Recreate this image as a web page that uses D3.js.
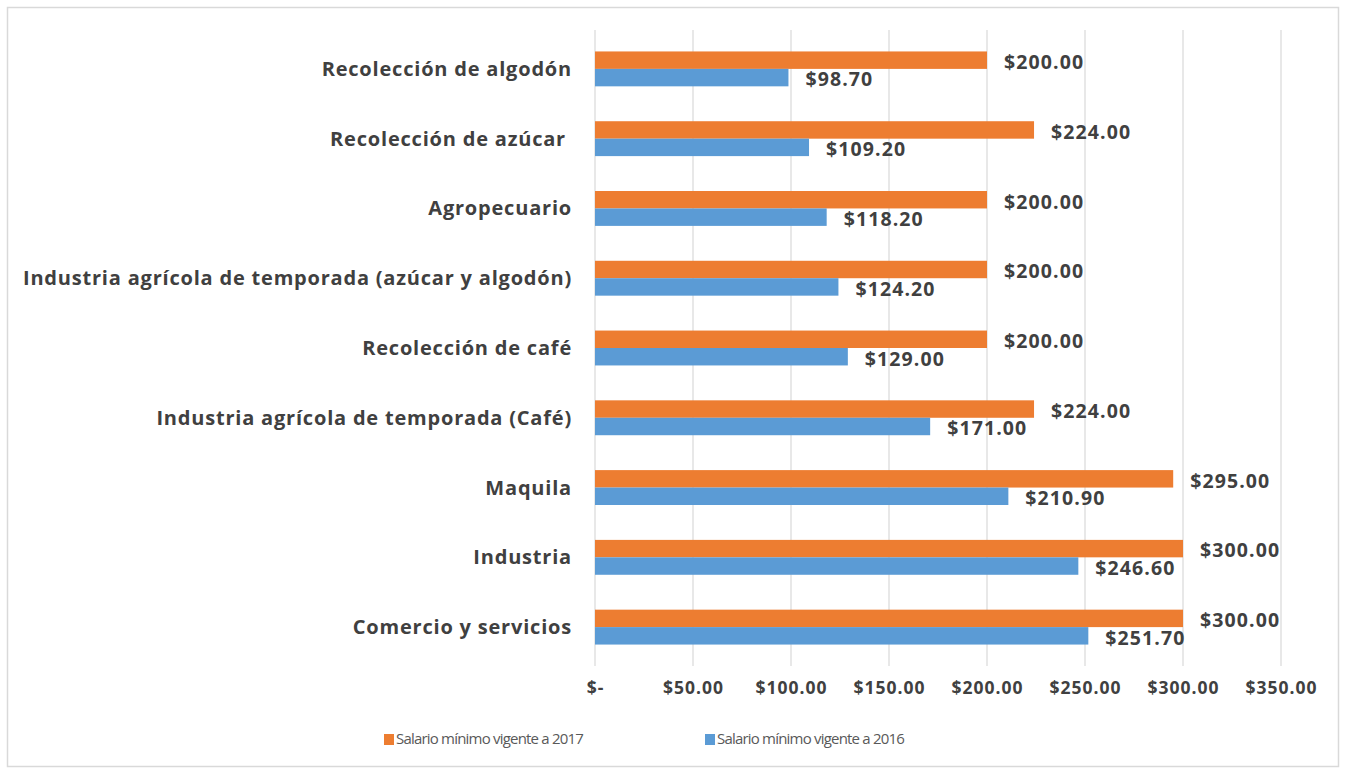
<!DOCTYPE html>
<html>
<head>
<meta charset="utf-8">
<script src="https://cdn.jsdelivr.net/npm/d3@7"></script>
<style>
	body { margin: 0; background: #fff; }
	text { font-family: "Open Sans", "DejaVu Sans", sans-serif; }
</style>
</head>
<body>
<svg class="mainsvg" width="1345" height="769"></svg>
<script>
var categories = [
	"Recolección de algodón",
	"Recolección de azúcar ",
	"Agropecuario",
	"Industria agrícola de temporada (azúcar y algodón)",
	"Recolección de café",
	"Industria agrícola de temporada (Café)",
	"Maquila",
	"Industria",
	"Comercio y servicios"
];
var salario2017 = [200, 224, 200, 200, 200, 224, 295, 300, 300];
var salario2016 = [98.7, 109.2, 118.2, 124.2, 129, 171, 210.9, 246.6, 251.7];
var tickValues = [0, 50, 100, 150, 200, 250, 300, 350];
var seriesNames = ["Salario mínimo vigente a 2017", "Salario mínimo vigente a 2016"];
var seriesColors = ["#ed7d31", "#5b9bd5"];

var svg = d3.select('.mainsvg');
var _width = 1345, _height = 769;

// chart border
svg.append('rect')
	.attr('x', 7.5).attr('y', 7.5)
	.attr('width', 1331).attr('height', 759)
	.attr('fill', '#fff')
	.attr('stroke', '#d9d9d9')
	.attr('stroke-width', 1.5);

var x = d3.scaleLinear().domain([0, 350]).range([595, 1281]);
var y = d3.scaleBand().domain(categories).range([34, 662]).paddingInner(0.5).paddingOuter(0.25);
var ySub = d3.scaleBand().domain([0, 1]).range([0, y.bandwidth()]);

// grid lines
svg.append('g')
	.selectAll('line')
	.data(tickValues)
	.join('line')
	.attr('x1', d => x(d)).attr('x2', d => x(d))
	.attr('y1', 30).attr('y2', 666)
	.attr('stroke', '#d9d9d9')
	.attr('stroke-width', 1.2);

// x axis
var fmt = d3.format(",.2f");
var xAxis = svg.append('g')
	.attr('transform', 'translate(0,666)')
	.call(d3.axisBottom(x).tickValues(tickValues).tickSize(0).tickPadding(16)
		.tickFormat(d => d == 0 ? '$-' : '$' + fmt(d)));
xAxis.select('.domain').remove();
xAxis.selectAll('text')
	.attr('fill', '#404040')
	.attr('font-size', '17.5px')
	.attr('font-weight', '700')
	.style('letter-spacing', '1px');

// category labels
svg.append('g')
	.selectAll('text')
	.data(categories)
	.join('text')
	.attr('x', 572)
	.attr('y', d => y(d) + y.bandwidth() / 2)
	.attr('dy', '0.35em')
	.attr('fill', '#404040')
	.attr('font-size', '20px')
	.attr('font-weight', '700')
	.style('text-anchor', 'end')
	.style('white-space', 'pre')
	.style('letter-spacing', '0.8px')
	.text(d => d);

// bars
var series = [salario2017, salario2016];
series.forEach(function (vals, s) {
	var g = svg.append('g');
	g.selectAll('rect')
		.data(vals)
		.join('rect')
		.attr('x', x(0))
		.attr('y', (d, i) => y(categories[i]) + ySub(s))
		.attr('width', d => x(d) - x(0))
		.attr('height', ySub.bandwidth())
		.attr('fill', seriesColors[s]);
	g.selectAll('text')
		.data(vals)
		.join('text')
		.attr('x', d => x(d) + 17)
		.attr('y', (d, i) => y(categories[i]) + ySub(s) + ySub.bandwidth() / 2 + 2)
		.attr('dy', '0.35em')
		.attr('fill', '#404040')
		.attr('font-size', '19.5px')
		.attr('font-weight', '700')
		.style('letter-spacing', '1.1px')
		.text(d => '$' + fmt(d));
});

// legend
var legendX = [384, 705];
seriesNames.forEach(function (name, s) {
	svg.append('rect')
		.attr('x', legendX[s]).attr('y', 734)
		.attr('width', 10).attr('height', 11)
		.attr('fill', seriesColors[s]);
	svg.append('text')
		.attr('x', legendX[s] + 12)
		.attr('y', 739)
		.attr('dy', '0.35em')
		.attr('fill', '#595959')
		.attr('font-size', '15px')
		.style('letter-spacing', '-0.8px')
		.text(name);
});
</script>
</body>
</html>
